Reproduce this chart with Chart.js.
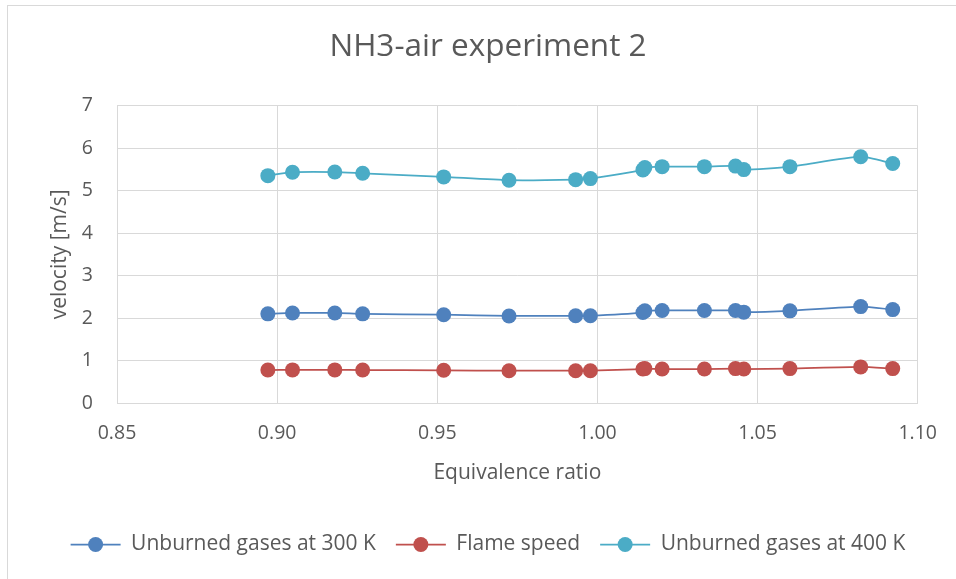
<!DOCTYPE html>
<html>
<head>
<meta charset="utf-8">
<script src="https://cdn.jsdelivr.net/npm/chart.js@4/dist/chart.umd.min.js"></script>
<style>
  html, body { margin: 0; padding: 0; background: #fff; }
  #wrap { position: relative; width: 956px; height: 579px; overflow: hidden; }
  #frame { position: absolute; left: 7px; top: 5px; width: 1000px; height: 1000px; border: 1.5px solid #d9d9d9; }
  canvas { position: absolute; left: 0; top: 0; }
</style>
</head>
<body>
<div id="wrap">
  <div id="frame"></div>
  <canvas id="grafico" width="956" height="579"></canvas>
</div>
<script>
// dados
const razaoEquiv = [0.8971, 0.9048, 0.9180, 0.9267, 0.9520, 0.9724, 0.9932, 0.9978,
  1.0142, 1.0148, 1.0202, 1.0334, 1.0431, 1.0457, 1.0601, 1.0822, 1.0922];
const gases300 = [2.10, 2.12, 2.12, 2.10, 2.08, 2.05, 2.055, 2.055,
  2.13, 2.17, 2.18, 2.18, 2.18, 2.14, 2.17, 2.27, 2.20];
const velChama = [0.776, 0.78, 0.78, 0.776, 0.77, 0.76, 0.76, 0.76,
  0.80, 0.81, 0.80, 0.80, 0.81, 0.80, 0.81, 0.85, 0.81];
const gases400 = [5.355, 5.435, 5.44, 5.41, 5.325, 5.247, 5.26, 5.285,
  5.49, 5.545, 5.567, 5.567, 5.58, 5.497, 5.567, 5.80, 5.64];
const nomesSeries = ["Unburned gases at 300 K", "Flame speed", "Unburned gases at 400 K"];
const cores = ["#4F81BD", "#C0504D", "#4BACC6"];
const ticksX = [0.85, 0.90, 0.95, 1.00, 1.05, 1.10];

const fonte = "'Open Sans'";
const corTexto = "#595959";

function pontos(valores) {
  return razaoEquiv.map((x, i) => ({ x: x, y: valores[i] }));
}

function serie(i, valores) {
  return {
    label: nomesSeries[i],
    data: pontos(valores),
    showLine: true,
    borderColor: cores[i],
    backgroundColor: cores[i],
    borderWidth: 1.75,
    pointRadius: 7.5,
    pointHoverRadius: 7.5,
    pointBorderWidth: 0,
    tension: 0.2
  };
}

// desenha a legenda com linha + marcador, como no Excel
const legendaLinha = {
  id: "legendaLinha",
  afterDraw(chart) {
    const leg = chart.legend;
    if (!leg || !leg.legendHitBoxes) return;
    const ctx = chart.ctx;
    const bw = leg.options.labels.boxWidth;
    leg.legendHitBoxes.forEach((hb, i) => {
      const cy = hb.top + hb.height / 2;
      ctx.save();
      ctx.strokeStyle = cores[i];
      ctx.lineWidth = 1.75;
      ctx.beginPath();
      ctx.moveTo(hb.left, cy);
      ctx.lineTo(hb.left + bw, cy);
      ctx.stroke();
      ctx.fillStyle = cores[i];
      ctx.beginPath();
      ctx.arc(hb.left + bw / 2, cy, 7.5, 0, Math.PI * 2);
      ctx.fill();
      ctx.restore();
    });
  }
};

new Chart(document.getElementById("grafico").getContext("2d"), {
  type: "scatter",
  data: {
    datasets: [serie(0, gases300), serie(1, velChama), serie(2, gases400)]
  },
  options: {
    responsive: false,
    animation: false,
    layout: { padding: { left: 34, right: 14, top: 0, bottom: 14 } },
    plugins: {
      title: {
        display: true,
        text: "NH3-air experiment 2",
        color: corTexto,
        font: { family: fonte, size: 31.5, weight: "normal" },
        padding: { top: 28, bottom: 40 }
      },
      legend: {
        position: "bottom",
        labels: {
          color: corTexto,
          font: { family: fonte, size: 21 },
          boxWidth: 50,
          boxHeight: 14,
          padding: 20,
          generateLabels(chart) {
            return chart.data.datasets.map((d, i) => ({
              text: d.label,
              fillStyle: "rgba(0,0,0,0)",
              strokeStyle: "rgba(0,0,0,0)",
              lineWidth: 0,
              fontColor: corTexto,
              datasetIndex: i
            }));
          }
        }
      },
      tooltip: { enabled: false }
    },
    scales: {
      x: {
        type: "linear",
        min: 0.85,
        max: 1.10,
        afterBuildTicks(axis) { axis.ticks = ticksX.map(v => ({ value: v })); },
        afterFit(axis) { axis.height = 111; },
        ticks: {
          color: corTexto,
          font: { family: fonte, size: 19.5 },
          padding: 19,
          maxRotation: 0,
          callback: v => v.toFixed(2)
        },
        grid: { color: "#d9d9d9", lineWidth: 1, drawTicks: false },
        border: { color: "#d9d9d9" },
        title: {
          display: true,
          text: "Equivalence ratio",
          color: corTexto,
          font: { family: fonte, size: 21 },
          padding: { top: 0, bottom: 28 }
        }
      },
      y: {
        min: 0,
        max: 7,
        afterFit(axis) { axis.width = 83; },
        ticks: {
          stepSize: 1,
          color: corTexto,
          font: { family: fonte, size: 19.5 },
          padding: 24
        },
        grid: { color: "#d9d9d9", lineWidth: 1, drawTicks: false },
        border: { color: "#d9d9d9" },
        title: {
          display: true,
          text: "velocity [m/s]",
          color: corTexto,
          font: { family: fonte, size: 21 },
          padding: { top: 13, bottom: 0 }
        }
      },
      // eixo vazio à direita, só para reservar espaço
      espaco: {
        position: "right",
        afterFit(axis) { axis.width = 24; },
        ticks: { display: false },
        grid: { display: false },
        border: { display: false }
      }
    }
  },
  plugins: [legendaLinha]
});
</script>
</body>
</html>
